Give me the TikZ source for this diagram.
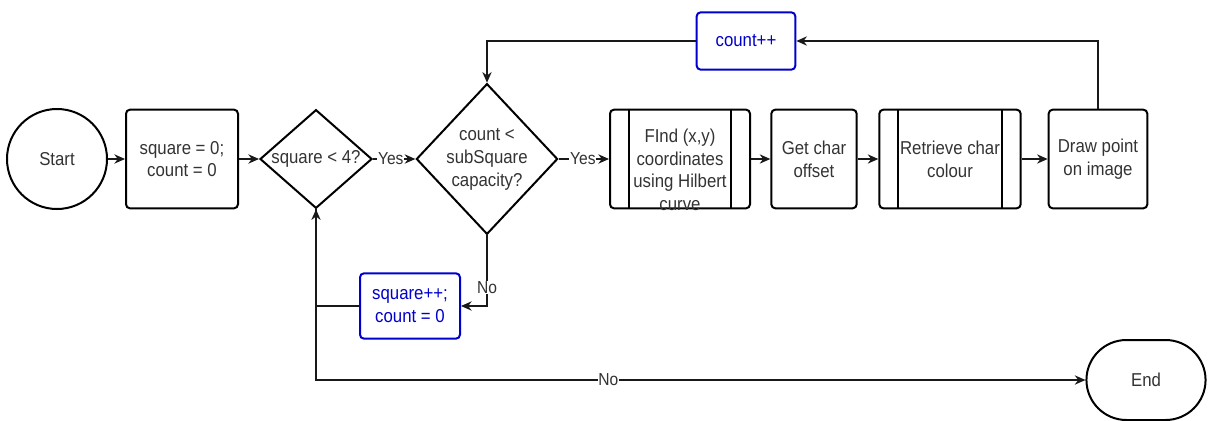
\documentclass[tikz,border=0pt]{standalone}
\usepackage{fontspec}
\setmainfont{Liberation Sans}[FakeStretch=0.9]
\usetikzlibrary{shapes.geometric,shapes.misc,arrows.meta}
\definecolor{flowblue}{RGB}{0,0,204}
\definecolor{flowtext}{RGB}{51,51,51}
\def\flat#1{\makebox[0pt]{\begin{tabular}{@{}c@{}}#1\end{tabular}}}
\begin{document}
\begin{tikzpicture}[x=0.75pt,y=-0.75pt,font=\fontsize{14}{17}\selectfont]
\tikzstyle{terminal}=[draw,line width=1.5pt,text=flowtext]
\tikzstyle{block}=[draw,line width=1.5pt,rounded corners=3pt,text=flowtext,align=center,inner sep=0pt]
\tikzstyle{counter}=[block,draw=flowblue,text=flowblue]
\tikzstyle{decision}=[draw,diamond,line width=1.5pt,text=flowtext,inner sep=0pt]
\tikzstyle{edge}=[draw,line width=1pt,black!90,-{Stealth[length=8pt,width=7pt]}]
\tikzstyle{weight}=[font=\fontsize{13}{15}\selectfont,fill=white,inner sep=0.5pt,text=flowtext]
\def \bar {15pt}
\useasboundingbox (0,0) rectangle (1210,421);
\node[terminal,circle,minimum size=75pt] (start) at (57,159) {Start};
\node[block,minimum width=84pt,minimum height=74pt] (init) at (182,159) {square = 0;\\count = 0};
\node[decision,minimum width=84pt,minimum height=74pt] (dec1) at (316,159) {\flat{square < 4?}};
\node[decision,minimum width=106pt,minimum height=113pt] (dec2) at (487,159) {\flat{count <\\subSquare\\capacity?}};
\node[block,minimum width=105pt,minimum height=74pt,
  label={[text=flowtext,align=center,yshift=-8pt]center:FInd (x,y)\\coordinates\\using Hilbert\\curve}] (find) at (680,159) {};
\node[block,minimum width=64pt,minimum height=74pt] (get) at (814,159) {Get char\\offset};
\node[block,minimum width=106pt,minimum height=74pt] (retr) at (950,159) {Retrieve char\\colour};
\node[block,minimum width=74pt,minimum height=74pt] (plot) at (1098,159) {Draw point\\on image};
\node[counter,minimum width=74pt,minimum height=43pt] (cnt) at (746,41) {count++};
\node[counter,minimum width=75pt,minimum height=49pt] (sqpp) at (410,306) {square++;\\count = 0};
\node[terminal,rounded rectangle,minimum width=96pt,minimum height=60pt] (end) at (1146,380) {End};
\draw[line width=1.5pt] ([xshift=\bar]find.north west) -- ([xshift=\bar]find.south west);
\draw[line width=1.5pt] ([xshift=-\bar]find.north east) -- ([xshift=-\bar]find.south east);
\draw[line width=1.5pt] ([xshift=\bar]retr.north west) -- ([xshift=\bar]retr.south west);
\draw[line width=1.5pt] ([xshift=-\bar]retr.north east) -- ([xshift=-\bar]retr.south east);
\path[edge] (start) -- (init);
\path[edge] (init) -- (dec1);
\path[edge] (dec1) -- node[weight,pos=0.42] {Yes} (dec2);
\path[edge] (dec2) -- node[weight,pos=0.48] {Yes} (find);
\path[edge] (find) -- (get);
\path[edge] (get) -- (retr);
\path[edge] (retr) -- (plot);
\path[edge] (plot.north) |- (cnt.east);
\path[edge] (cnt.west) -| (dec2.north);
\path[edge] (dec2.south) |- node[weight,pos=0.37] {No} (sqpp.east);
\path[edge] (sqpp.west) -| (dec1.south);
\path[edge] (dec1.south) |- node[weight,pos=0.69] {No} (end);
\end{tikzpicture}
\end{document}
